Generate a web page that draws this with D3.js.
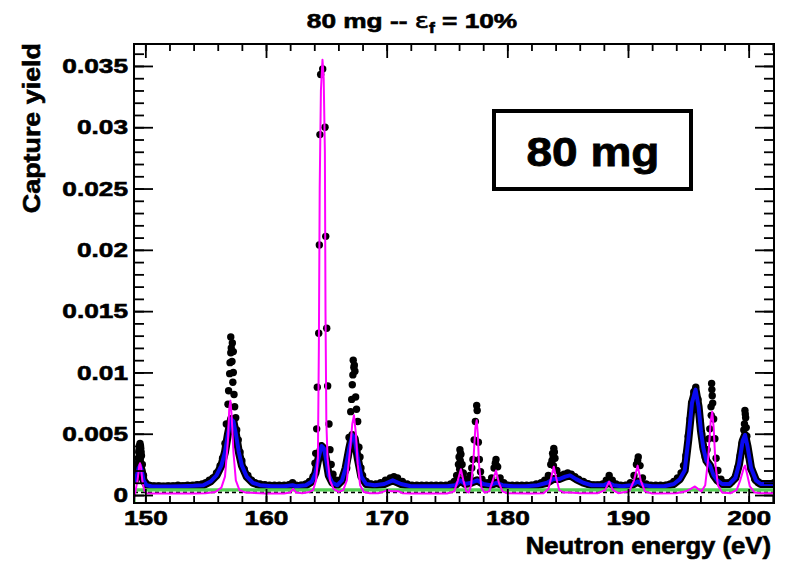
<!DOCTYPE html>
<html><head><meta charset="utf-8">
<script src="https://cdn.jsdelivr.net/npm/d3@7"></script>
<style>body{margin:0;background:#fff}svg{display:block}</style>
</head><body>
<svg id="c" width="786" height="562"></svg>
<script>
// ---------- data ----------
const xTickValues = [150,160,170,180,190,200];
const xTickLabels = ["150","160","170","180","190","200"];
const yTickValues = [0,0.005,0.01,0.015,0.02,0.025,0.03,0.035];
const yTickLabels = ["0","0.005","0.01","0.015","0.02","0.025","0.03","0.035"];
const xDomain = [149.06, 202.1];
const yDomain = [-0.00065, 0.03679];

// measured capture yield (black points) [energy eV, yield]
const dataPoints = [
[149.1,0.0012],[149.2,0.0016],[149.3,0.0022],[149.4,0.0030],[149.42,0.0026],[149.45,0.0035],[149.48,0.0037],[149.5,0.0040],[149.52,0.0033],[149.56,0.0042],[149.58,0.0028],[149.6,0.0040],[149.62,0.0038],[149.65,0.0035],[149.68,0.0032],[149.75,0.0025],[149.85,0.0016],[150.0,0.0010],[150.3,0.0008],
[150.7,0.00075],[151.1,0.00075],[151.5,0.0007],[151.9,0.00075],[152.3,0.00075],[152.7,0.0008],[153.1,0.00075],[153.5,0.0008],[153.9,0.0008],[154.3,0.00085],[154.7,0.0009],[155.0,0.0010],[155.3,0.0012],[155.6,0.0014],[155.9,0.0018],[156.2,0.0024],[156.4,0.0030],
[156.60,0.0042],[156.71,0.0058],[156.85,0.0074],[156.9,0.0085],[156.99,0.0099],[157.02,0.0108],[157.08,0.0129],[157.12,0.0120],[157.21,0.0124],[157.08,0.0116],[157.18,0.0109],[157.29,0.0117],[157.25,0.0092],[157.29,0.0100],[157.35,0.0082],[157.4,0.0072],[157.49,0.0063],[157.57,0.0053],[157.70,0.0045],[157.85,0.0035],[158.0,0.0028],[158.2,0.0021],[158.5,0.0016],[158.8,0.0012],
[159.1,0.0010],[159.5,0.0009],[159.9,0.00085],[160.3,0.0008],[160.7,0.0008],[161.1,0.0008],[161.5,0.0008],[161.9,0.00085],[162.2,0.0010],[162.5,0.0008],[162.9,0.0008],[163.3,0.0009],[163.6,0.0011],[163.9,0.0015],
[164.06,0.0026],[164.12,0.0034],[164.20,0.0054],[164.25,0.0088],[164.37,0.0132],[164.42,0.0204],[164.47,0.0294],[164.53,0.0343],[164.70,0.03475],[164.89,0.0300],[164.95,0.0211],[165.03,0.0136],[165.11,0.0089],[165.22,0.0058],[165.30,0.0037],[165.4,0.0025],[165.55,0.0017],[165.8,0.0012],
[166.1,0.0012],[166.4,0.0016],[166.6,0.0020],[166.69,0.0022],[166.77,0.0031],[166.88,0.0047],[167.02,0.0068],[167.1,0.0078],[167.15,0.0090],[167.2,0.0098],[167.23,0.0110],[167.28,0.0104],[167.32,0.0106],[167.37,0.0101],[167.43,0.0080],[167.5,0.0070],[167.60,0.0060],[167.70,0.0039],[167.79,0.0031],[167.87,0.0022],[168.0,0.0016],[168.3,0.0011],
[168.7,0.0009],[169.1,0.0009],[169.5,0.0010],[169.9,0.0012],[170.3,0.0014],[170.6,0.0015],[170.9,0.0014],[171.3,0.0011],[171.7,0.0009],[172.1,0.0008],[172.5,0.0008],[172.9,0.0008],[173.3,0.0008],[173.7,0.0008],[174.1,0.0008],[174.5,0.0008],[174.9,0.0008],[175.3,0.0009],
[175.6,0.0011],[175.8,0.0016],[175.95,0.0025],[176.0,0.0031],[176.05,0.0021],[176.07,0.0037],[176.1,0.0028],[176.12,0.0034],[176.15,0.0033],[176.25,0.0025],[176.35,0.0018],[176.5,0.0013],[176.7,0.0012],[176.9,0.0016],[177.05,0.0022],[177.15,0.0029],[177.25,0.0045],[177.35,0.0060],[177.46,0.0073],[177.5,0.0069],[177.6,0.0043],[177.68,0.0029],[177.78,0.0019],[177.9,0.0013],
[178.1,0.0010],[178.4,0.0010],[178.7,0.0014],[178.9,0.0022],[179.0,0.0026],[179.06,0.0029],[179.1,0.0024],[179.2,0.0023],[179.4,0.0014],[179.7,0.0010],[180.0,0.0008],[180.4,0.0008],[180.8,0.0008],[181.2,0.0008],[181.6,0.0008],[182.0,0.0008],[182.4,0.0009],[182.8,0.0010],
[183.1,0.0012],[183.4,0.0016],[183.6,0.0025],[183.7,0.0028],[183.75,0.0034],[183.8,0.0031],[183.82,0.0024],[183.85,0.0038],[183.9,0.0035],[183.95,0.0030],[184.1,0.0020],[184.4,0.0016],[184.7,0.0017],[185.0,0.0018],[185.3,0.0017],[185.6,0.0015],[185.9,0.0013],[186.3,0.0011],[186.7,0.0009],[187.1,0.0008],[187.5,0.0008],[187.9,0.0009],
[188.2,0.0012],[188.44,0.0016],[188.7,0.0012],[189.0,0.0009],[189.4,0.0008],[189.8,0.0008],[190.2,0.0010],[190.5,0.0016],[190.7,0.0025],[190.8,0.0028],[190.85,0.0031],[191.0,0.0024],[191.2,0.0014],[191.5,0.0009],[191.9,0.0008],[192.3,0.0008],[192.7,0.0008],[193.1,0.0008],[193.5,0.0009],
[193.8,0.0011],[194.1,0.0014],[194.4,0.0018],[194.6,0.0024],[194.8,0.0032],[194.99,0.0048],[195.15,0.0062],[195.27,0.0075],[195.45,0.0084],[195.62,0.0088],[195.8,0.0078],[195.95,0.0061],[196.1,0.0050],[196.23,0.0040],[196.4,0.0031],
[196.55,0.0037],[196.7,0.0046],[196.78,0.0054],[196.88,0.0072],[196.9,0.0065],[196.93,0.0091],[196.95,0.0086],[196.98,0.0081],[197.02,0.0075],[197.1,0.0062],[197.2,0.0046],[197.3,0.0030],[197.45,0.0020],[197.7,0.0013],[198.0,0.0010],[198.3,0.0010],[198.6,0.0011],
[198.9,0.0015],[199.1,0.0022],[199.3,0.0032],[199.45,0.0042],[199.6,0.0053],[199.65,0.0058],[199.69,0.0069],[199.72,0.0066],[199.75,0.0063],[199.8,0.0055],[199.85,0.0048],[200.0,0.0032],[200.2,0.0021],[200.5,0.0013],[200.8,0.0010],[201.1,0.0009],[201.5,0.0009],[201.9,0.0009],[202.1,0.0010]
];

// fitted yield (blue)
const fitCurve = [
[149.06,0.0010],[149.3,0.0016],[149.45,0.0022],[149.56,0.0024],[149.7,0.0020],[149.85,0.0012],[150.1,0.0008],[150.5,0.00072],[151,0.0007],[152,0.0007],[153,0.00072],[154,0.00075],[154.8,0.0008],[155.4,0.0011],[155.9,0.0016],[156.3,0.0024],[156.6,0.0035],[156.85,0.0050],[157.1,0.0062],[157.3,0.0060],[157.5,0.0050],[157.75,0.0035],[158.0,0.0024],[158.4,0.0015],[158.9,0.0010],[159.5,0.0008],[160.5,0.00072],[161.5,0.00072],[162.2,0.0008],[162.5,0.00072],[163.3,0.0008],[163.8,0.0011],[164.1,0.0018],[164.35,0.0030],[164.6,0.0040],[164.8,0.0038],[165.0,0.0028],[165.2,0.0016],[165.5,0.0010],[165.9,0.0008],[166.3,0.0012],[166.6,0.0022],[166.9,0.0038],[167.15,0.0049],[167.35,0.0046],[167.6,0.0030],[167.9,0.0015],[168.3,0.0009],[169,0.0008],[169.8,0.0009],[170.5,0.0012],[171.2,0.0009],[172,0.00072],[173,0.00072],[174,0.00072],[175,0.00072],[175.7,0.0008],[176.1,0.0012],[176.5,0.0009],[177,0.0010],[177.5,0.0012],[178,0.0009],[178.6,0.0008],[179.1,0.0010],[179.6,0.0008],[180.5,0.00072],[181.5,0.00072],[182.5,0.0008],[183.3,0.0010],[183.8,0.0013],[184.3,0.0013],[184.8,0.0015],[185.2,0.0016],[185.7,0.0013],[186.3,0.0010],[187,0.0008],[188,0.0008],[188.4,0.0010],[188.8,0.0008],[189.5,0.00072],[190.3,0.0008],[190.8,0.0011],[191.3,0.0008],[192,0.00072],[193,0.00072],[193.8,0.0009],[194.3,0.0013],[194.7,0.0020],[195.0,0.0045],[195.3,0.0075],[195.6,0.0086],[195.85,0.0072],[196.05,0.0052],[196.25,0.0038],[196.5,0.0028],[196.8,0.0024],[197.1,0.0016],[197.4,0.0012],[197.8,0.0009],[198.4,0.0009],[198.9,0.0014],[199.2,0.0025],[199.5,0.0044],[199.7,0.0049],[199.9,0.0040],[200.2,0.0022],[200.6,0.0012],[201.0,0.0009],[201.5,0.0009],[202.1,0.0009]
];

// single-isotope contribution (magenta)
const isotopeCurve = [
[149.06,-0.0004],[149.2,0.0004],[149.35,0.0012],[149.5,0.0024],[149.56,0.0026],[149.65,0.0022],[149.75,0.0012],[149.9,0.0004],[150.1,0.00015],[150.5,0.00012],[152,0.00012],[154,0.00012],[155,0.00015],[155.8,0.00025],[156.3,0.0006],[156.6,0.0015],[156.85,0.0045],[156.95,0.0070],[157.05,0.0077],[157.15,0.0065],[157.3,0.0035],[157.5,0.0012],[157.8,0.0004],[158.3,0.0002],[160,0.00012],[161.5,0.00012],[162,0.0002],[162.25,0.0005],[162.5,0.0002],[163,0.00015],[163.6,0.00025],
[163.9,0.0004],[164.15,0.0012],[164.3,0.0030],[164.38,0.0120],[164.45,0.0250],[164.55,0.0330],[164.68,0.0355],[164.78,0.0340],[164.88,0.0280],[164.93,0.0150],[165.0,0.0060],[165.1,0.0030],[165.3,0.0012],[165.6,0.0005],[166,0.00025],
[166.4,0.0004],[166.7,0.0012],[166.95,0.0035],[167.15,0.0058],[167.29,0.0065],[167.45,0.0050],[167.6,0.0025],[167.8,0.0008],[168.1,0.00025],[168.6,0.00015],[169.3,0.00015],[169.8,0.0003],[170.1,0.0004],[170.4,0.0003],[170.7,0.0003],[171,0.0003],[171.3,0.00015],[172,0.00012],[175,0.00012],
[175.6,0.0003],[175.9,0.0012],[176.15,0.0021],[176.35,0.0012],[176.6,0.0003],[176.8,0.0002],[177.0,0.0008],[177.2,0.0030],[177.35,0.0055],[177.46,0.0061],[177.55,0.0050],[177.65,0.0025],[177.85,0.0006],[178.1,0.0002],[178.5,0.0003],[178.8,0.0012],[179.06,0.0020],[179.3,0.0010],[179.6,0.0003],[180,0.00015],[182,0.00012],
[183,0.00015],[183.4,0.0005],[183.65,0.0015],[183.85,0.0023],[184.05,0.0014],[184.3,0.0004],[184.7,0.0002],[185.2,0.0002],[186,0.00015],[187.5,0.00015],[188.1,0.0004],[188.44,0.0011],[188.75,0.0004],[189.2,0.00015],[190.1,0.0003],[190.5,0.0012],[190.8,0.0024],[191.05,0.0012],[191.4,0.0003],[192,0.00012],[194,0.00015],
[194.8,0.0003],[195.2,0.0005],[195.55,0.0007],[195.8,0.0005],[196.1,0.0003],[196.4,0.0008],[196.65,0.0030],[196.85,0.0060],[196.98,0.0068],[197.1,0.0055],[197.25,0.0025],[197.45,0.0008],[197.8,0.0002],[198.5,0.00015],[199.0,0.0004],[199.3,0.0012],[199.6,0.0022],[199.7,0.0024],[199.85,0.0018],[200.1,0.0007],[200.5,0.0002],[201,0.00015],[202.1,0.00015]
];

// background (green) and dashed baseline
const backgroundCurve = [[149.06,-0.0007],[149.1,0.00042],[202.1,0.00042]];
const baselineCurve = [[149.06,0.00022],[202.1,0.00022]];

const titleMain = "80 mg -- ";
const titleSymbol = "ε";
const titleSub = "f";
const titleRest = " = 10%";
const xTitle = "Neutron energy (eV)";
const yTitle = "Capture yield";
const boxLabel = "80 mg";

// ---------- drawing ----------
const svg = d3.select("#c");
const L = 134, R = 774, T = 44, B = 503;
const x = d3.scaleLinear().domain(xDomain).range([L, R]);
const y = d3.scaleLinear().domain(yDomain).range([B, T]);
const FONT = "'Liberation Sans', Arial, Helvetica, sans-serif";
const KX = 1.25;

function stretch(sel, ax, k) {
  sel.attr("transform", `translate(${ax},0) scale(${k},1) translate(${-ax},0)`);
}
function heavy(sel, w) { sel.attr("stroke","#000").attr("stroke-width",w).attr("paint-order","stroke"); }

svg.append("defs").append("clipPath").attr("id","clip")
  .append("rect").attr("x",L).attr("y",T).attr("width",R-L).attr("height",B-T);

const plot = svg.append("g").attr("clip-path","url(#clip)");
const line = d3.line().x(d=>x(d[0])).y(d=>y(d[1]));

// black data band + points
plot.append("path").datum(fitCurve).attr("d",line)
  .attr("fill","none").attr("stroke","#000").attr("stroke-width",8).attr("stroke-linejoin","round");
plot.append("g").selectAll("circle").data(dataPoints).join("circle")
  .attr("cx",d=>x(d[0])).attr("cy",d=>y(d[1])).attr("r",3.7).attr("fill","#000");
// blue fit
plot.append("path").datum(fitCurve).attr("d",line)
  .attr("fill","none").attr("stroke","#0a0af0").attr("stroke-width",4).attr("stroke-linejoin","round");
// dashed baseline
plot.append("path").datum(baselineCurve).attr("d",line)
  .attr("fill","none").attr("stroke","#000").attr("stroke-width",1.6).attr("stroke-dasharray","4,3");
// green background
plot.append("path").datum(backgroundCurve).attr("d",line)
  .attr("fill","none").attr("stroke","#55d055").attr("stroke-width",3.2);
// magenta isotope
plot.append("path").datum(isotopeCurve).attr("d",line)
  .attr("fill","none").attr("stroke","#ff00ff").attr("stroke-width",2).attr("stroke-linejoin","round");

// axes
function styleAxis(g){
  g.select(".domain").remove();
  g.selectAll("line").attr("stroke","#000").attr("stroke-width",1.8);
  g.selectAll("text").attr("font-family",FONT).attr("font-weight","bold").attr("font-size",21).attr("fill","#000");
  heavy(g.selectAll("text"),0.6);
}
const xMinor = d3.range(150,202.1,2);
const yMinor = d3.range(0,0.0365,0.001);

// bottom
const gxm = svg.append("g").attr("transform",`translate(0,${B})`)
  .call(d3.axisBottom(x).tickValues(xMinor).tickSize(-7).tickFormat(""));
styleAxis(gxm);
const gx = svg.append("g").attr("transform",`translate(0,${B})`)
  .call(d3.axisBottom(x).tickValues(xTickValues).tickSize(-14).tickPadding(7)
    .tickFormat((d,i)=>xTickLabels[i]));
styleAxis(gx);
gx.selectAll("text").attr("dy","0.71em").each(function(){ stretch(d3.select(this),0,KX); });
// top
const gxt = svg.append("g").attr("transform",`translate(0,${T})`)
  .call(d3.axisTop(x).tickValues(xMinor).tickSize(-7).tickFormat(""));
styleAxis(gxt);
const gxt2 = svg.append("g").attr("transform",`translate(0,${T})`)
  .call(d3.axisTop(x).tickValues(xTickValues).tickSize(-14).tickFormat(""));
styleAxis(gxt2);
// left
const gym = svg.append("g").attr("transform",`translate(${L},0)`)
  .call(d3.axisLeft(y).tickValues(yMinor).tickSize(-10).tickFormat(""));
styleAxis(gym);
const gy = svg.append("g").attr("transform",`translate(${L},0)`)
  .call(d3.axisLeft(y).tickValues(yTickValues).tickSize(-19).tickPadding(6)
    .tickFormat((d,i)=>yTickLabels[i]));
styleAxis(gy);
gy.selectAll("text").each(function(){ stretch(d3.select(this),-6,KX); });
// right
const gyr = svg.append("g").attr("transform",`translate(${R},0)`)
  .call(d3.axisRight(y).tickValues(yMinor).tickSize(-10).tickFormat(""));
styleAxis(gyr);
const gyr2 = svg.append("g").attr("transform",`translate(${R},0)`)
  .call(d3.axisRight(y).tickValues(yTickValues).tickSize(-19).tickFormat(""));
styleAxis(gyr2);

// frame
svg.append("rect").attr("x",L).attr("y",T).attr("width",R-L).attr("height",B-T)
  .attr("fill","none").attr("stroke","#000").attr("stroke-width",2);

// axis titles
const xt = svg.append("text").attr("x",771).attr("y",554).attr("text-anchor","end")
  .attr("font-family",FONT).attr("font-weight","bold").attr("font-size",24).text(xTitle);
heavy(xt,0.6);
stretch(xt,771,1.07);
const ytg = svg.append("g").attr("transform","translate(40,43) rotate(-90)");
const yt = ytg.append("text").attr("x",0).attr("y",0).attr("text-anchor","end")
  .attr("font-family",FONT).attr("font-weight","bold").attr("font-size",24)
  .attr("transform",`scale(1.12,1)`).text(yTitle);
heavy(yt,0.6);

// title
const tt = svg.append("text").attr("x",412).attr("y",28).attr("text-anchor","middle")
  .attr("font-family",FONT).attr("font-weight","bold").attr("font-size",21);
tt.append("tspan").text(titleMain);
tt.append("tspan").attr("font-weight","normal").attr("font-family","'DejaVu Sans', sans-serif").text(titleSymbol);
tt.append("tspan").attr("font-size",14).attr("dy",5).text(titleSub);
tt.append("tspan").attr("dy",-5).text(titleRest);
heavy(tt,0.6);
stretch(tt,412,1.25);

// label box
svg.append("rect").attr("x",494).attr("y",111).attr("width",197).attr("height",78)
  .attr("fill","#fff").attr("stroke","#000").attr("stroke-width",4);
const bl = svg.append("text").attr("x",593).attr("y",166).attr("text-anchor","middle")
  .attr("font-family",FONT).attr("font-weight","bold").attr("font-size",40).text(boxLabel);
heavy(bl,0.8);
stretch(bl,593,1.15);
</script>
</body></html>
